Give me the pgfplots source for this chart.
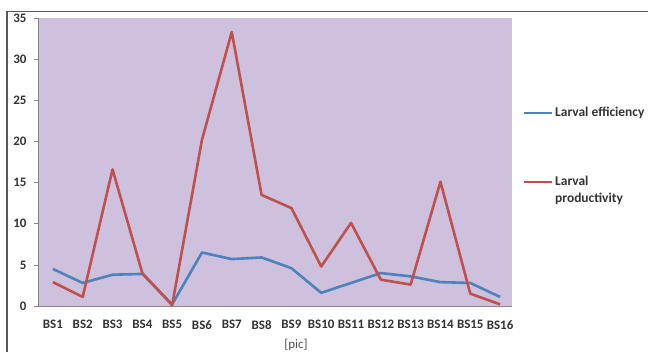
\documentclass[border=0pt]{standalone}
\usepackage{fontspec}
\setmainfont{Carlito}
\usepackage{pgfplots}
\pgfplotsset{compat=1.18}
\definecolor{plotbg}{RGB}{205,193,221}
\definecolor{xlblue}{RGB}{79,129,189}
\definecolor{xlred}{RGB}{192,80,77}
\definecolor{axgray}{RGB}{134,134,134}
\definecolor{frame}{RGB}{90,90,90}
\pgfplotsset{shiftedleg/.style={legend image code/.code={\draw[##1, line width=2bp] (0bp,8bp) -- (28bp,8bp);}}}
\begin{document}
\begin{tikzpicture}[x=1bp,y=1bp]
\path[use as bounding box] (0,0) rectangle (648,352);
\draw[frame, line width=1.2bp] (7,0) -- (7,340.5) -- (648,340.5);
\begin{axis}[
  at={(38bp,46bp)}, anchor=origin,
  scale only axis, width=474bp, height=288bp,
  xmin=0.5, xmax=16.4, ymin=0, ymax=35,
  axis background/.style={fill=plotbg},
  axis x line*=bottom, axis y line*=left,
  axis line style={axgray, line width=0.8bp},
  every outer x axis line/.append style={-}, every outer y axis line/.append style={-},
  xtick={1,...,16},
  xticklabels={BS1,BS2,BS3,BS4,BS5,BS6,BS7,BS8,BS9,BS10,BS11,BS12,BS13,BS14,BS15,BS16},
  extra x ticks={1.5,2.5,3.5,4.5,5.5,6.5,7.5,8.5,9.5,10.5,11.5,12.5,13.5,14.5,15.5},
  extra x tick labels={},
  extra x tick style={major tick length=4bp, tick style={axgray}},
  x tick style={draw=none},
  ytick={0,5,...,35},
  y tick style={axgray, line width=0.6bp},
  major tick length=4bp,
  tick align=outside,
  tick label style={font=\fontsize{13}{15}\selectfont\bfseries, text=black!80},
  xticklabel style={yshift=-9bp, inner sep=1bp},
  yticklabel style={xshift=-4bp},
  /pgf/number format/assume math mode=true,
  clip=false,
  legend style={at={(482bp,203bp)}, anchor=north west, draw=none, fill=none,
    font=\fontsize{13.5}{17}\selectfont\bfseries, text=black!80,
    nodes={align=left, inner xsep=2bp}, row sep=54bp},
  legend cell align=left,
  legend image code/.code={\draw[#1, line width=2bp] (0bp,0bp) -- (28bp,0bp);},
]
\addplot[xlblue, line width=2.6bp, line join=round] coordinates {
(1,4.5) (2,2.8) (3,3.8) (4,3.9) (5,0.2) (6,6.5) (7,5.7) (8,5.9)
(9,4.6) (10,1.6) (11,2.8) (12,4.0) (13,3.6) (14,2.9) (15,2.8) (16,1.1)};
\addlegendentry{Larval efficiency}
\addplot[xlred, line width=2.6bp, line join=round, shiftedleg] coordinates {
(1,2.9) (2,1.1) (3,16.6) (4,4.0) (5,0.1) (6,20.2) (7,33.3) (8,13.5)
(9,11.9) (10,4.8) (11,10.1) (12,3.2) (13,2.6) (14,15.1) (15,1.5) (16,0.2)};
\addlegendentry{Larval\\productivity}
\end{axis}
\node[font=\fontsize{13}{15}\selectfont, text=black!70] at (296,7) {[pic]};
\end{tikzpicture}
\end{document}
